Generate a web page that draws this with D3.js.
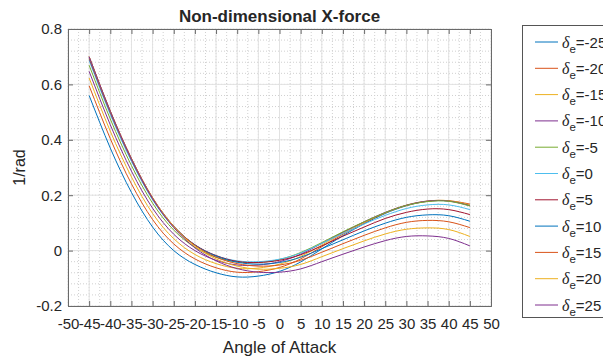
<!DOCTYPE html>
<html>
<head>
<meta charset="utf-8">
<script src="https://cdn.jsdelivr.net/npm/d3@7"></script>
<style>
  body { margin: 0; background: #fff; }
  text { font-family: "Liberation Sans", Arial, sans-serif; fill: #262626; }
</style>
</head>
<body>
<div id="chart"></div>
<script>
// angle of attack (deg)
const alpha = [-45, -40, -35, -30, -25, -20, -15, -10, -5, 0, 5, 10, 15, 20, 25, 30, 35, 40, 45];
const deflections = [-25, -20, -15, -10, -5, 0, 5, 10, 15, 20, 25];

// Cx per elevator deflection
const cxM25 = [0.56, 0.37, 0.21, 0.085, 0.0, -0.05, -0.08, -0.095, -0.092, -0.075, -0.041, 0.006, 0.054, 0.097, 0.134, 0.162, 0.178, 0.179, 0.164];
const cxM20 = [0.595, 0.404, 0.241, 0.112, 0.024, -0.03, -0.062, -0.078, -0.076, -0.061, -0.03, 0.014, 0.059, 0.1, 0.136, 0.163, 0.178, 0.18, 0.168];
const cxM15 = [0.623, 0.431, 0.266, 0.134, 0.043, -0.014, -0.047, -0.064, -0.063, -0.049, -0.021, 0.02, 0.063, 0.102, 0.137, 0.164, 0.179, 0.18, 0.165];
const cxM10 = [0.647, 0.454, 0.287, 0.153, 0.059, 0.0, -0.035, -0.052, -0.052, -0.04, -0.013, 0.026, 0.066, 0.104, 0.138, 0.164, 0.179, 0.179, 0.162];
const cxM5 = [0.669, 0.475, 0.307, 0.171, 0.074, 0.012, -0.024, -0.041, -0.043, -0.032, -0.007, 0.029, 0.068, 0.104, 0.137, 0.163, 0.177, 0.178, 0.161];
const cx0 = [0.686, 0.491, 0.322, 0.183, 0.084, 0.02, -0.018, -0.037, -0.04, -0.031, -0.009, 0.026, 0.062, 0.096, 0.127, 0.152, 0.165, 0.165, 0.148];
const cxP5 = [0.693, 0.498, 0.328, 0.187, 0.087, 0.021, -0.018, -0.039, -0.043, -0.035, -0.015, 0.017, 0.052, 0.085, 0.116, 0.138, 0.15, 0.148, 0.13];
const cxP10 = [0.697, 0.501, 0.33, 0.19, 0.088, 0.02, -0.02, -0.042, -0.049, -0.043, -0.024, 0.007, 0.039, 0.071, 0.099, 0.12, 0.129, 0.126, 0.106];
const cxP15 = [0.70, 0.504, 0.333, 0.191, 0.088, 0.019, -0.024, -0.047, -0.056, -0.052, -0.035, -0.006, 0.025, 0.055, 0.082, 0.102, 0.109, 0.104, 0.083];
const cxP20 = [0.70, 0.503, 0.332, 0.19, 0.086, 0.015, -0.03, -0.056, -0.067, -0.064, -0.05, -0.022, 0.007, 0.035, 0.06, 0.077, 0.082, 0.076, 0.051];
const cxP25 = [0.70, 0.503, 0.331, 0.188, 0.083, 0.01, -0.037, -0.065, -0.078, -0.078, -0.066, -0.04, -0.013, 0.013, 0.036, 0.051, 0.053, 0.044, 0.017];
const seriesValues = [cxM25, cxM20, cxM15, cxM10, cxM5, cx0, cxP5, cxP10, cxP15, cxP20, cxP25];

const xTicks = d3.range(-50, 51, 5);
const yTicks = [-0.2, 0, 0.2, 0.4, 0.6, 0.8];

// matlab default color order
const colors = ["#0072BD", "#D95319", "#EDB120", "#7E2F8E", "#77AC30", "#4DBEEE", "#A2142F"];

const W = 603, H = 358;
const margin = {top: 29, right: 112, bottom: 52, left: 68};
const pw = W - margin.left - margin.right;
const ph = H - margin.top - margin.bottom;

const svg = d3.select("#chart").append("svg")
  .attr("width", W).attr("height", H);

const x = d3.scaleLinear().domain([-50, 50]).range([margin.left, margin.left + pw]);
const y = d3.scaleLinear().domain([-0.2, 0.8]).range([margin.top + ph, margin.top]);

// grid, minor then major
const g = svg.append("g");
g.selectAll(".vminor").data(d3.range(-50, 50.1, 2.5)).enter().append("line")
  .attr("x1", d => x(d)).attr("x2", d => x(d))
  .attr("y1", margin.top).attr("y2", margin.top + ph)
  .attr("stroke", "#d0d0d0").attr("stroke-dasharray", "1,2");
g.selectAll(".hminor").data(d3.range(-0.2, 0.801, 0.04)).enter().append("line")
  .attr("y1", d => y(d)).attr("y2", d => y(d))
  .attr("x1", margin.left).attr("x2", margin.left + pw)
  .attr("stroke", "#d0d0d0").attr("stroke-dasharray", "1,2");
g.selectAll(".vmajor").data(xTicks).enter().append("line")
  .attr("x1", d => x(d)).attr("x2", d => x(d))
  .attr("y1", margin.top).attr("y2", margin.top + ph)
  .attr("stroke", "#e2e2e2");
g.selectAll(".hmajor").data(yTicks).enter().append("line")
  .attr("y1", d => y(d)).attr("y2", d => y(d))
  .attr("x1", margin.left).attr("x2", margin.left + pw)
  .attr("stroke", "#e2e2e2");

// curves
const line = d3.line()
  .x((d, i) => x(alpha[i]))
  .y(d => y(d))
  .curve(d3.curveNatural);

svg.selectAll(".curve").data(seriesValues).enter().append("path")
  .attr("class", "curve")
  .attr("d", d => line(d))
  .attr("fill", "none")
  .attr("stroke", (d, i) => colors[i % colors.length])
  .attr("stroke-width", 1);

// axes with inward ticks
const axisColor = "#6a6a6a";
const axB = svg.append("g")
  .attr("transform", "translate(0," + (margin.top + ph) + ")")
  .call(d3.axisBottom(x).tickValues(xTicks).tickSize(-5).tickPadding(12).tickFormat(d => String(d)));
const axT = svg.append("g")
  .attr("transform", "translate(0," + margin.top + ")")
  .call(d3.axisTop(x).tickValues(xTicks).tickSize(-5).tickFormat(""));
const axL = svg.append("g")
  .attr("transform", "translate(" + margin.left + ",0)")
  .call(d3.axisLeft(y).tickValues(yTicks).tickSize(-5).tickPadding(6).tickFormat(d => String(+d.toFixed(1))));
const axR = svg.append("g")
  .attr("transform", "translate(" + (margin.left + pw) + ",0)")
  .call(d3.axisRight(y).tickValues(yTicks).tickSize(-5).tickFormat(""));

[axB, axT, axL, axR].forEach(a => {
  a.select(".domain").attr("stroke", axisColor);
  a.selectAll(".tick line").attr("stroke", axisColor);
  a.selectAll("text").attr("font-size", 15).style("font-family", '"Liberation Sans", Arial, sans-serif').attr("fill", "#262626");
});

// titles
svg.append("text")
  .attr("x", margin.left + pw / 2).attr("y", 22)
  .attr("text-anchor", "middle")
  .attr("font-size", 17).attr("font-weight", "bold")
  .text("Non-dimensional X-force");
svg.append("text")
  .attr("x", margin.left + pw / 2).attr("y", 353)
  .attr("text-anchor", "middle")
  .attr("font-size", 17)
  .text("Angle of Attack");
svg.append("text")
  .attr("transform", "translate(25," + (margin.top + ph / 2) + ") rotate(-90)")
  .attr("text-anchor", "middle")
  .attr("font-size", 16)
  .text("1/rad");

// legend (runs past the right edge, as in the original)
const lg = svg.append("g");
lg.append("rect")
  .attr("x", 522.5).attr("y", 25.5).attr("width", 100).attr("height", 292)
  .attr("fill", "#fff").attr("stroke", "#555");
const items = lg.selectAll(".item").data(deflections).enter().append("g")
  .attr("transform", (d, i) => "translate(0," + (42 + i * 26.3) + ")");
items.append("line")
  .attr("x1", 535).attr("x2", 558)
  .attr("stroke", (d, i) => colors[i % colors.length]);
const lt = items.append("text").attr("x", 562).attr("y", 5.5).attr("font-size", 15);
lt.append("tspan").style("font-family", '"Liberation Serif", serif').attr("font-style", "italic").attr("font-size", 16).text("δ");
lt.append("tspan").attr("dy", 5).attr("font-size", 11.5).text("e");
lt.append("tspan").attr("dy", -5).text(d => "=" + d);
</script>
</body>
</html>
